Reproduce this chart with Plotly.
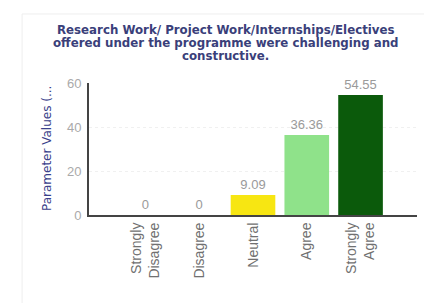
import plotly.graph_objects as go

categories = ["Strongly<br>Disagree", "Disagree", "Neutral", "Agree", "Strongly<br>Agree"]
values = [0, 0, 9.09, 36.36, 54.55]
value_labels = ["0", "0", "9.09", "36.36", "54.55"]
bar_colors = ["#f5e614", "#f5e614", "#f7e612", "#8fe28a", "#0b5a0b"]
y_ticks = [0, 20, 40, 60]
title_lines = [
    "Research Work/ Project Work/Internships/Electives",
    "offered under the programme were challenging and",
    "constructive.",
]
y_title = "Parameter Values (..."

fig = go.Figure()
fig.add_trace(go.Bar(
    x=list(range(len(categories))),
    y=values,
    marker=dict(color=bar_colors, line=dict(width=0)),
    width=0.83,
    text=value_labels,
    textposition="outside",
    textfont=dict(family="Arial", size=13, color="#9a9a9a"),
    cliponaxis=False,
))

# page body adds an 8px margin; figure size/margins compensate for it
fig.update_layout(
    width=424, height=295,
    margin=dict(l=81, r=15, t=75, b=88),
    paper_bgcolor="white", plot_bgcolor="white",
    showlegend=False,
    xaxis=dict(
        range=[-1.05, 5.05],
        tickmode="array",
        tickvals=list(range(len(categories))),
        ticktext=categories,
        tickangle=-90,
        tickfont=dict(family="Arial", size=14, color="#707070"),
        showline=True, linecolor="#444444", linewidth=2,
        showgrid=False, ticks="", zeroline=False,
        automargin=False,
    ),
    yaxis=dict(
        range=[0, 60],
        tickvals=y_ticks,
        tickfont=dict(family="Arial", size=13, color="#aaaaaa"),
        ticklabelstandoff=3,
        showline=True, linecolor="#444444", linewidth=2,
        showgrid=True, gridcolor="#f0f0f0", griddash="dot",
        zeroline=False, ticks="",
        automargin=False,
    ),
)

# title lines placed individually to match the tight line spacing
title_y = [1.4015, 1.303, 1.205]
for line, ty in zip(title_lines, title_y):
    fig.add_annotation(
        text=line, xref="paper", yref="paper", x=0.417, y=ty,
        xanchor="center", yanchor="middle", showarrow=False,
        font=dict(family="DejaVu Sans", size=11.8, color="#3a3f7a", weight="bold"),
    )

fig.add_annotation(
    text=y_title, textangle=-90,
    xref="paper", yref="paper", x=-0.128, y=0.5,
    xanchor="center", yanchor="middle", showarrow=False,
    font=dict(family="DejaVu Sans", size=12, color="#3a3f8a"),
)

fig.add_shape(type="rect", xref="paper", yref="paper",
              x0=-0.204, x1=1.2, y0=-0.7, y1=1.523,
              line=dict(color="#eeeeee", width=1), layer="below")

fig.write_html("out.html")
